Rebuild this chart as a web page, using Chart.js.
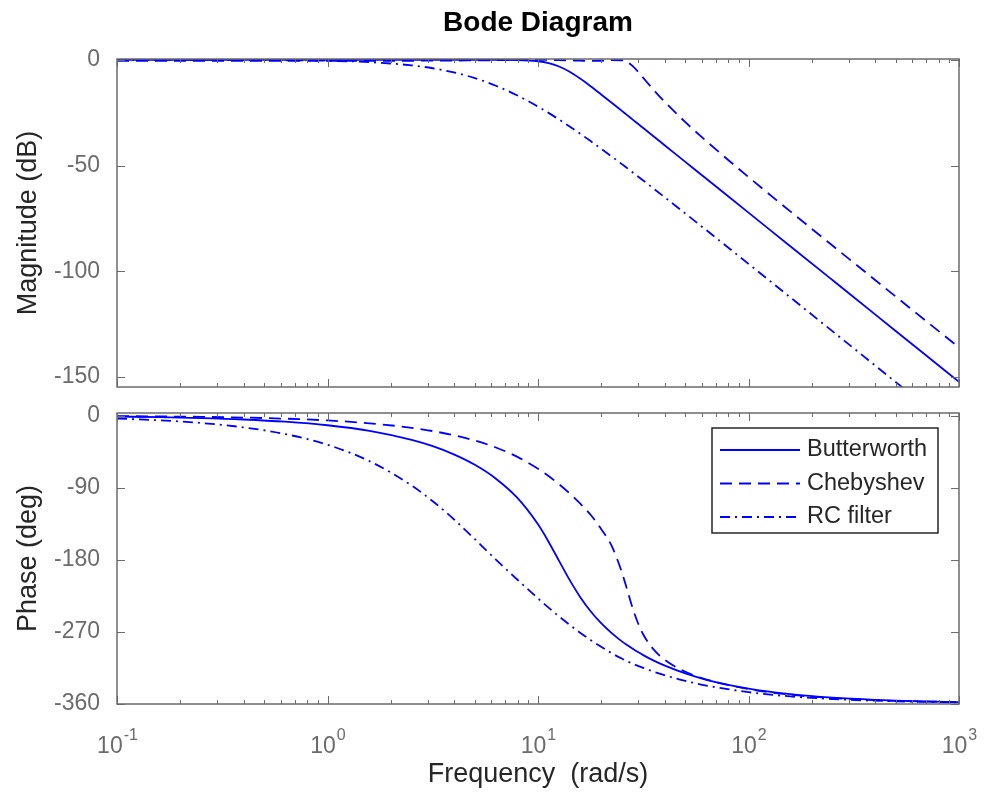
<!DOCTYPE html>
<html lang="en">
<head>
  <meta charset="UTF-8" />
  <title>Bode Diagram</title>
  <script src="https://cdn.jsdelivr.net/npm/chart.js"></script>
  <style>
    body { margin: 0; background: #fff; }
    #wrap { position: relative; width: 984px; height: 793px; }
    #wrap canvas { position: absolute; left: 0; }
  </style>
</head>
<body>
  <div id="wrap">
    <canvas id="magChart" width="984" height="400" style="top:0"></canvas>
    <canvas id="phaseChart" width="984" height="393" style="top:400px"></canvas>
  </div>

  <script>
    // frequencies (rad/s) shared by all curves
    const freq = [0.1, 0.1585, 0.2512, 0.3981, 0.631, 1, 1.585, 2.512, 3.162, 3.981, 5.012, 6.31, 7.943,
      10, 11.22, 12.59, 14.13, 15.85, 17.78, 19.95, 22.39, 25.12, 26.61, 28.18, 29.85, 31.62, 35.48,
      39.81, 50.12, 63.1, 100, 158.5, 251.2, 398.1, 631, 1000];

    // magnitude (dB)
    const butterMag = [0, 0, 0, 0, 0, 0, 0, 0, 0, 0, 0, -0.02, -0.11,
      -0.67, -1.53, -3.14, -5.63, -8.86, -12.5, -16.35, -20.29, -24.27, -26.26, -28.26, -30.25, -32.25, -36.25,
      -40.25, -48.25, -56.25, -72.25, -88.25, -104.25, -120.25, -136.25, -152.25];
    const chebyMag = [-0.5, -0.5, -0.5, -0.5, -0.5, -0.49, -0.47, -0.43, -0.39, -0.34, -0.26, -0.16, -0.05,
      0, -0.03, -0.11, -0.24, -0.39, -0.5, -0.43, -0.12, -0.19, -1.11, -3.0, -5.58, -8.5, -14.25,
      -19.66, -29.45, -38.46, -55.42, -71.78, -87.92, -103.98, -120.0, -136.0];
    const rcMag = [0, -0.01, -0.03, -0.07, -0.18, -0.44, -1.09, -2.61, -3.97, -5.94, -8.65, -12.24, -16.74,
      -22.11, -25.08, -28.21, -31.49, -34.9, -38.42, -42.02, -45.7, -49.44, -51.31, -53.23, -55.13, -57.06, -60.93,
      -64.82, -72.67, -80.56, -96.46, -112.43, -128.41, -144.41, -160.4, -176.4];

    // phase (deg)
    const butterPhase = [-1.2, -1.9, -3.0, -4.8, -7.6, -12.0, -19.0, -30.3, -38.2, -48.4, -61.5, -78.8, -102.3,
      -135.9, -157.6, -181.5, -205.3, -226.6, -244.5, -259.4, -271.9, -282.5, -287.1, -291.5, -295.6, -299.4, -306.3,
      -312.3, -322.3, -330.2, -341.2, -348.2, -352.6, -355.3, -357.0, -358.1];
    const chebyPhase = [-0.6, -1.0, -1.5, -2.4, -3.8, -6.0, -9.6, -15.2, -19.3, -24.5, -31.1, -39.8, -51.3,
      -66.4, -75.5, -85.8, -97.2, -109.8, -123.9, -141.7, -162.9, -197.1, -219.0, -241.0, -259.2, -273.6, -292.6,
      -304.8, -320.2, -329.9, -341.8, -349.0, -353.0, -355.6, -357.2, -358.2];
    const rcPhase = [-3.7, -5.8, -9.2, -14.6, -23.1, -36.4, -57.0, -87.5, -107.0, -129.5, -154.5, -180.0, -204.5,
      -228.5, -240.0, -251.0, -261.5, -271.5, -280.5, -289.0, -297.0, -304.0, -307.2, -310.1, -312.8, -315.4, -320.1,
      -324.4, -331.6, -337.4, -345.7, -351.0, -354.3, -356.4, -357.7, -358.6];

    const seriesNames = ["Butterworth", "Chebyshev", "RC filter"];
    const magTicks = [0, -50, -100, -150];
    const phaseTicks = [0, -90, -180, -270, -360];
    const decades = [0.1, 1, 10, 100, 1000];
    const decadeExp = ["-1", "0", "1", "2", "3"];

    const FONT = "'Liberation Sans', Arial, Helvetica, sans-serif";
    const GRAY = "#6b6b6b";
    const DARK = "#262626";
    const BLUE = "#0000ff";
    const dashes = [[], [12, 7], [10, 5, 2, 5]];

    function makeSets(lists) {
      return lists.map((ys, i) => ({
        label: seriesNames[i],
        data: freq.map((f, k) => ({ x: f, y: ys[k] })),
        showLine: true,
        borderColor: BLUE,
        borderWidth: 1.8,
        borderDash: dashes[i],
        pointRadius: 0,
        cubicInterpolationMode: "monotone",
        fill: false
      }));
    }

    // gray box with inward ticks on all four sides
    const boxPlugin = {
      id: "box",
      afterDatasetsDraw(chart, args, opts) {
        const { ctx, chartArea: a, scales: { x, y } } = chart;
        ctx.save();
        ctx.strokeStyle = GRAY;
        ctx.lineWidth = 1;
        ctx.beginPath();
        decades.forEach(d => {
          for (let m = 1; m <= 9; m++) {
            const v = d * m;
            if (v > 1000) break;
            const px = Math.round(x.getPixelForValue(v)) + 0.5;
            const len = m === 1 ? 8 : 4;
            ctx.moveTo(px, a.top); ctx.lineTo(px, a.top + len);
            ctx.moveTo(px, a.bottom); ctx.lineTo(px, a.bottom - len);
          }
        });
        opts.ticks.forEach(t => {
          const py = Math.round(y.getPixelForValue(t)) + 0.5;
          ctx.moveTo(a.left, py); ctx.lineTo(a.left + 8, py);
          ctx.moveTo(a.right, py); ctx.lineTo(a.right - 8, py);
        });
        ctx.stroke();
        ctx.lineWidth = 1.5;
        ctx.strokeRect(a.left, a.top, a.right - a.left, a.bottom - a.top);
        ctx.restore();
      }
    };

    // 10^n labels under the phase axes
    const decadeLabels = {
      id: "decadeLabels",
      afterDraw(chart) {
        const { ctx, scales: { x } } = chart;
        ctx.save();
        ctx.fillStyle = GRAY;
        ctx.textBaseline = "middle";
        ctx.textAlign = "left";
        decades.forEach((v, i) => {
          ctx.font = "23px " + FONT;
          const wBase = ctx.measureText("10").width;
          ctx.font = "16px " + FONT;
          const wExp = ctx.measureText(decadeExp[i]).width;
          const x0 = x.getPixelForValue(v) - (wBase + wExp) / 2;
          ctx.font = "23px " + FONT;
          ctx.fillText("10", x0, 347);
          ctx.font = "16px " + FONT;
          ctx.fillText(decadeExp[i], x0 + wBase + 1, 336);
        });
        ctx.restore();
      }
    };

    // boxed legend in the upper right of the phase axes
    const boxLegend = {
      id: "boxLegend",
      afterDraw(chart) {
        const { ctx } = chart;
        const left = 712, top = 28, w = 226, h = 105;
        ctx.save();
        ctx.fillStyle = "#fff";
        ctx.fillRect(left, top, w, h);
        ctx.strokeStyle = DARK;
        ctx.lineWidth = 1.5;
        ctx.strokeRect(left, top, w, h);
        chart.data.datasets.forEach((ds, i) => {
          const yy = top + 22 + i * 33.5;
          ctx.strokeStyle = ds.borderColor;
          ctx.lineWidth = ds.borderWidth;
          ctx.setLineDash(ds.borderDash);
          ctx.beginPath();
          ctx.moveTo(left + 8, yy);
          ctx.lineTo(left + 88, yy);
          ctx.stroke();
          ctx.setLineDash([]);
          ctx.fillStyle = DARK;
          ctx.font = "23.5px " + FONT;
          ctx.textBaseline = "middle";
          ctx.fillText(ds.label, left + 95, yy);
        });
        ctx.restore();
      }
    };

    function yAxis(min, max, ticks, label) {
      return {
        min: min,
        max: max,
        afterBuildTicks: s => { s.ticks = ticks.map(v => ({ value: v })); },
        afterFit: s => {
          s.width = 117;
          s.paddingTop = 0;
          s.paddingBottom = 0;
        },
        grid: { display: false, drawTicks: false },
        border: { display: false },
        ticks: { color: GRAY, font: { family: FONT, size: 23 }, padding: 17, autoSkip: false },
        title: { display: true, text: label, color: DARK, font: { family: FONT, size: 27 }, padding: { top: 12 } }
      };
    }

    new Chart(document.getElementById("magChart"), {
      type: "scatter",
      data: { datasets: makeSets([butterMag, chebyMag, rcMag]) },
      plugins: [boxPlugin],
      options: {
        responsive: false,
        animation: false,
        devicePixelRatio: 1,
        events: [],
        layout: { padding: { top: 0, right: 25, bottom: 13, left: 0 } },
        scales: {
          x: { type: "logarithmic", min: 0.1, max: 1000, display: false },
          y: yAxis(-154.7, 0.4, magTicks, "Magnitude (dB)")
        },
        plugins: {
          legend: { display: false },
          tooltip: { enabled: false },
          title: {
            display: true,
            fullSize: false,
            text: "Bode Diagram",
            color: "#000",
            font: { family: FONT, size: 28, weight: "bold" },
            padding: { top: 6, bottom: 19.4 }
          },
          box: { ticks: magTicks }
        }
      }
    });

    new Chart(document.getElementById("phaseChart"), {
      type: "scatter",
      data: { datasets: makeSets([butterPhase, chebyPhase, rcPhase]) },
      plugins: [boxPlugin, decadeLabels, boxLegend],
      options: {
        responsive: false,
        animation: false,
        devicePixelRatio: 1,
        events: [],
        layout: { padding: { top: 13, right: 25, bottom: 0, left: 0 } },
        scales: {
          x: {
            type: "logarithmic",
            min: 0.1,
            max: 1000,
            afterFit: s => { s.height = 89; },
            grid: { display: false, drawTicks: false },
            border: { display: false },
            ticks: { display: false },
            title: {
              display: true,
              text: "Frequency  (rad/s)",
              color: DARK,
              font: { family: FONT, size: 27 },
              padding: { bottom: 2 }
            }
          },
          y: yAxis(-360.5, 3.3, phaseTicks, "Phase (deg)")
        },
        plugins: {
          legend: { display: false },
          tooltip: { enabled: false },
          box: { ticks: phaseTicks }
        }
      }
    });
  </script>
</body>
</html>
